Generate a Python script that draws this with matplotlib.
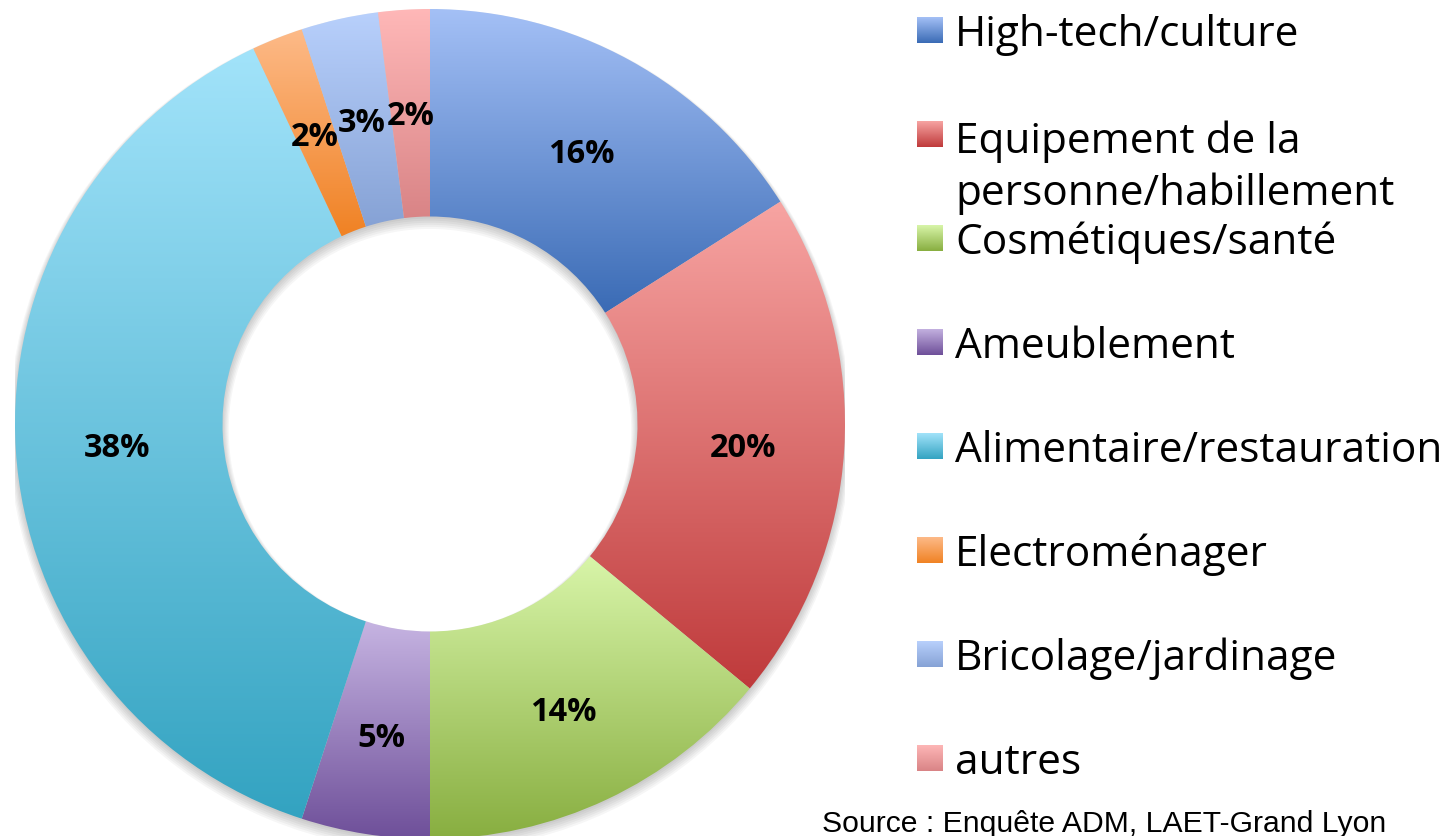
import numpy as np
import matplotlib.pyplot as plt
from matplotlib.patches import Wedge
from matplotlib.colors import to_rgb

# Données
categories = ['High-tech/culture', 'Equipement de la\npersonne/habillement',
              'Cosmétiques/santé', 'Ameublement', 'Alimentaire/restauration',
              'Electroménager', 'Bricolage/jardinage', 'autres']
values = [16, 20, 14, 5, 38, 2, 3, 2]
pct_labels = ['16%', '20%', '14%', '5%', '38%', '2%', '3%', '2%']
source = 'Source : Enquête ADM, LAET-Grand Lyon'

# Dégradés (clair en haut, foncé en bas)
top_colors = ['#a4c0f6', '#f7a4a2', '#d8f5a9', '#c6b4e2', '#a2e3fa', '#fdba88', '#b8d0fc', '#ffb8b8']
bottom_colors = ['#3a6bb5', '#bf3a3b', '#88ae40', '#6e4f99', '#33a3c1', '#f08224', '#86a2d5', '#d98486']

W, H = 1456, 837
fig = plt.figure(figsize=(W / 100, H / 100), dpi=100)

cx, cy, R = 430, 425, 415
ax = fig.add_axes([(cx - R) / W, (H - cy - R) / H, 2 * R / W, 2 * R / H])
ax.set_xlim(-1, 1)
ax.set_ylim(-1, 1)
ax.set_aspect('equal')
ax.axis('off')

# ombre légère sous l'anneau
for k in range(6):
    ax.add_patch(Wedge((0, -0.005 - 0.002 * k), 1.0 + 0.003 * k, 0, 360, width=0.5 + 0.006 * k,
                       facecolor='black', edgecolor='none', alpha=0.035, zorder=0))

wedges, _ = ax.pie(values, startangle=90, counterclock=False, radius=1,
                   wedgeprops=dict(width=0.5, linewidth=0), normalize=True)


def gradient_img(c_top, c_bot, n=256):
    t = np.linspace(0, 1, n)[:, None]
    a = np.array(to_rgb(c_top))
    b = np.array(to_rgb(c_bot))
    return (t * a + (1 - t) * b)[:, None, :]


for w, ct, cb in zip(wedges, top_colors, bottom_colors):
    w.set_facecolor('none')
    ext = w.get_path().get_extents()
    im = ax.imshow(gradient_img(ct, cb), extent=[ext.x0, ext.x1, ext.y0, ext.y1],
                   origin='lower', aspect='auto', interpolation='bilinear', zorder=1)
    im.set_clip_path(w)

ax.set_xlim(-1, 1)
ax.set_ylim(-1, 1)

# étiquettes des pourcentages
cum = np.cumsum([0] + values[:-1])
total = sum(values)
for start, v, lab in zip(cum, values, pct_labels):
    ang = np.deg2rad(90 - 360 * (start + v / 2) / total)
    ax.text(0.755 * np.cos(ang), 0.755 * np.sin(ang), lab, ha='center', va='center_baseline',
            fontsize=23.5, fontweight='bold', family='Open Sans', zorder=3)

# légende
for i, (lab, ct, cb) in enumerate(zip(categories, top_colors, bottom_colors)):
    yc = 31 + 104 * i
    lax = fig.add_axes([917 / W, (H - yc - 13) / H, 26 / W, 26 / H])
    lax.imshow(gradient_img(ct, cb), origin='lower', aspect='auto', extent=[0, 1, 0, 1])
    lax.axis('off')
    nl = lab.count('\n')
    fig.text(955 / W, (H - yc - 15 - 55 * nl) / H, lab, ha='left', va='baseline',
             fontsize=30.5, family='Open Sans', linespacing=1.3)

fig.text(1386 / W, (H - 832) / H, source, ha='right', va='baseline',
         fontsize=21.7, family='Liberation Sans')

fig.savefig('out.png', dpi=100)
